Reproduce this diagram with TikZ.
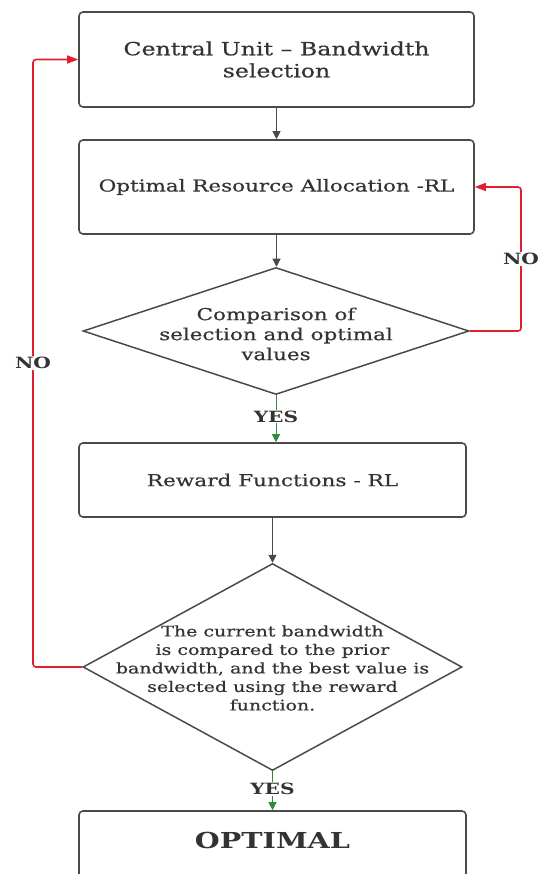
\documentclass[tikz,border=0pt]{standalone}
\usepackage{fontspec}
\setmainfont{DejaVu Serif}[FakeStretch=1.3,FakeBold=0.6,BoldFeatures={FakeBold=0}]
\usetikzlibrary{shapes.geometric,arrows.meta}
\definecolor{edge}{HTML}{4A4A4A}
\definecolor{txt}{HTML}{333333}
\definecolor{nored}{HTML}{E0202E}
\definecolor{yesgreen}{HTML}{2E8B3A}
\begin{document}
\begin{tikzpicture}[x=1pt,y=-1pt,
  box/.style={draw=edge,line width=1.6pt,rounded corners=4pt,inner sep=0pt,text=txt,align=center},
  dia/.style={draw=edge,line width=1.5pt,diamond,inner sep=0pt},
  dtext/.style={text=txt,align=center,inner sep=0pt},
  flow/.style={draw=edge,line width=1pt,-{Triangle[width=8pt,length=8pt]}},
  noflow/.style={draw=nored,line width=1.6pt,rounded corners=3pt,-{Triangle[width=8pt,length=11pt]}},
  yesflow/.style={draw=yesgreen,line width=1pt,-{Triangle[width=8pt,length=8pt]}},
  lab/.style={font=\bfseries\fontsize{15.5}{17}\selectfont,text=txt,inner sep=1pt,fill=white},
]
\useasboundingbox (0,0) rectangle (545,874);
% boxes
\node[box,minimum width=395pt,minimum height=95pt,font=\fontsize{18.2}{22}\selectfont] (b1) at (276.5,59.5) {Central Unit -- Bandwidth\\selection};
\node[box,minimum width=395pt,minimum height=94pt,font=\fontsize{16.5}{20}\selectfont] (b2) at (276.5,187) {Optimal Resource Allocation -RL};
\node[dia,minimum width=386pt,minimum height=127pt] (d1) at (276,331) {};
\node[dtext,font=\fontsize{16.5}{20}\selectfont] (t1) at (276,334) {Comparison of\\selection and optimal\\values};
\node[box,minimum width=387pt,minimum height=74pt,font=\fontsize{16.6}{20}\selectfont] (b3) at (272.5,480) {Reward Functions - RL};
\node[dia,minimum width=379pt,minimum height=207pt] (d2) at (272.5,667) {};
\node[dtext,font=\fontsize{14.6}{18.5}\selectfont] (t2) at (272.5,668) {The current bandwidth\\is compared to the prior\\bandwidth, and the best value is\\selected using the reward\\function.};
\node[box,minimum width=387pt,minimum height=70pt] (b4) at (272.5,846) {};
\node[text=txt,font=\bfseries\fontsize{22}{24}\selectfont,inner sep=0pt] (t4) at (272.5,840) {OPTIMAL};
% loop anchors
\coordinate (r1) at (521,0);
\coordinate (l1) at (33,0);
% connectors
\draw[flow] (b1.south) -- (b2.north);
\draw[flow] (b2.south) -- (b2.south |- d1.north);
\draw[flow] (b3.south) -- (b3.south |- d2.north);
\draw[yesflow] (d1.south) -- (d1.south |- b3.north) node[lab,pos=0.45] {YES};
\draw[yesflow] (d2.south) -- (d2.south |- b4.north) node[lab,pos=0.45] {YES};
\draw[noflow] (d1.east) -- (d1.east -| r1) -- node[lab,pos=0.5] {NO} (r1 |- b2.east) -- (b2.east);
\draw[noflow] (d2.west) -- (d2.west -| l1) -- node[lab,pos=0.5] {NO} (l1 |- b1.west) -- (b1.west);
\end{tikzpicture}
\end{document}
